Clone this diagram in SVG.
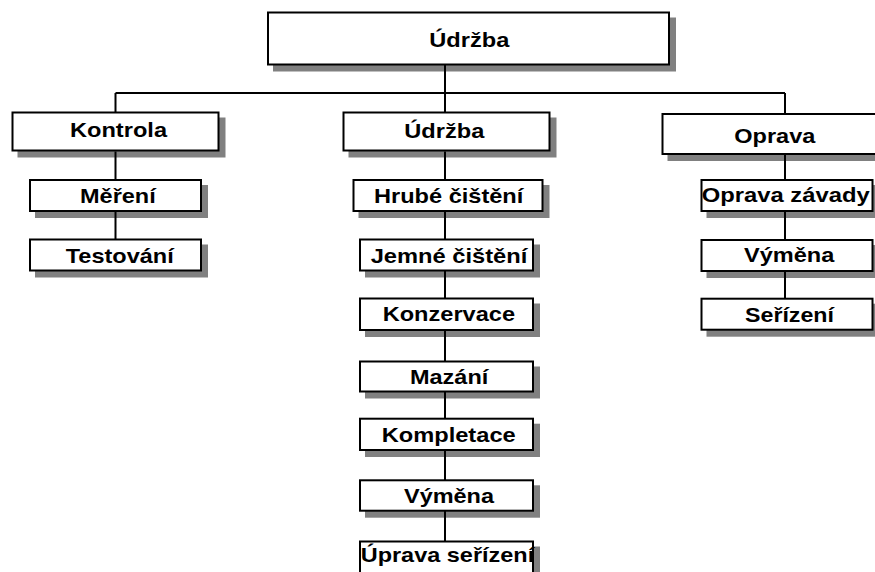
<svg xmlns="http://www.w3.org/2000/svg" width="875" height="572" viewBox="0 0 875 572">
<style>
.sh{fill:#808080;stroke:#808080;stroke-width:2}
.bx{fill:#fff;stroke:#000;stroke-width:2}
.t{font-family:"Liberation Sans",Arial,sans-serif;font-weight:bold;font-size:21px;fill:#000}
.c{stroke:#000;stroke-width:2;fill:none}
</style>
<rect width="875" height="572" fill="#fff"/>
<g id="root">
<rect class="sh" x="274" y="18.5" width="401" height="52"/>
<rect class="bx" x="268" y="12.5" width="401" height="52"/>
<text class="t" x="429.3" y="46.7" textLength="80" lengthAdjust="spacingAndGlyphs">Údržba</text>
</g>
<g id="kontrola">
<rect class="sh" x="18.5" y="118.5" width="206" height="38"/>
<rect class="bx" x="12.5" y="112.5" width="206" height="38"/>
<text class="t" x="70" y="137.3" textLength="97" lengthAdjust="spacingAndGlyphs">Kontrola</text>
</g>
<g id="udrzba">
<rect class="sh" x="349.5" y="118.5" width="206" height="38"/>
<rect class="bx" x="343.5" y="112.5" width="206" height="38"/>
<text class="t" x="404.3" y="138.3" textLength="80" lengthAdjust="spacingAndGlyphs">Údržba</text>
</g>
<g id="oprava">
<rect class="sh" x="668.5" y="120" width="226" height="40"/>
<rect class="bx" x="662.5" y="114" width="226" height="40"/>
<text class="t" x="734.3" y="143.3" textLength="81" lengthAdjust="spacingAndGlyphs">Oprava</text>
</g>
<g id="mereni">
<rect class="sh" x="36" y="186" width="171" height="31"/>
<rect class="bx" x="30" y="180" width="171" height="31"/>
<text class="t" x="80" y="202.7" textLength="75.7" lengthAdjust="spacingAndGlyphs">Měření</text>
</g>
<g id="testovani">
<rect class="sh" x="36" y="245.5" width="171" height="31"/>
<rect class="bx" x="30" y="239.5" width="171" height="31"/>
<text class="t" x="65.7" y="262.7" textLength="108" lengthAdjust="spacingAndGlyphs">Testování</text>
</g>
<g id="hrube">
<rect class="sh" x="359.5" y="186" width="189" height="31"/>
<rect class="bx" x="353.5" y="180" width="189" height="31"/>
<text class="t" x="374" y="202.7" textLength="149.3" lengthAdjust="spacingAndGlyphs">Hrubé čištění</text>
</g>
<g id="jemne">
<rect class="sh" x="366" y="245.5" width="173" height="31"/>
<rect class="bx" x="360" y="239.5" width="173" height="31"/>
<text class="t" x="370.7" y="262.7" textLength="156.6" lengthAdjust="spacingAndGlyphs">Jemné čištění</text>
</g>
<g id="konzervace">
<rect class="sh" x="366" y="304.5" width="173" height="31.5"/>
<rect class="bx" x="360" y="298.5" width="173" height="31.5"/>
<text class="t" x="382.7" y="321" textLength="132.3" lengthAdjust="spacingAndGlyphs">Konzervace</text>
</g>
<g id="mazani">
<rect class="sh" x="366" y="367.5" width="173" height="30"/>
<rect class="bx" x="360" y="361.5" width="173" height="30"/>
<text class="t" x="410" y="384" textLength="78.3" lengthAdjust="spacingAndGlyphs">Mazání</text>
</g>
<g id="kompletace">
<rect class="sh" x="366" y="424.7" width="173" height="31.3"/>
<rect class="bx" x="360" y="418.7" width="173" height="31.3"/>
<text class="t" x="381.7" y="441.7" textLength="134" lengthAdjust="spacingAndGlyphs">Kompletace</text>
</g>
<g id="vymena-c">
<rect class="sh" x="366" y="486.3" width="173" height="30.4"/>
<rect class="bx" x="360" y="480.3" width="173" height="30.4"/>
<text class="t" x="404" y="502.7" textLength="90" lengthAdjust="spacingAndGlyphs">Výměna</text>
</g>
<g id="uprava">
<rect class="sh" x="366" y="547.5" width="173" height="40"/>
<rect class="bx" x="360" y="541.5" width="173" height="40"/>
<text class="t" x="360.7" y="561.7" textLength="173.5" lengthAdjust="spacingAndGlyphs">Úprava seřízení</text>
</g>
<g id="oprava-zavady">
<rect class="sh" x="707.5" y="186" width="171" height="31"/>
<rect class="bx" x="701.5" y="180" width="171" height="31"/>
<text class="t" x="701.7" y="201.7" textLength="168" lengthAdjust="spacingAndGlyphs">Oprava závady</text>
</g>
<g id="vymena-r">
<rect class="sh" x="707.5" y="246" width="171" height="31"/>
<rect class="bx" x="701.5" y="240" width="171" height="31"/>
<text class="t" x="744" y="261.7" textLength="90.3" lengthAdjust="spacingAndGlyphs">Výměna</text>
</g>
<g id="serizeni">
<rect class="sh" x="707.5" y="304.7" width="171" height="31"/>
<rect class="bx" x="701.5" y="298.7" width="171" height="31"/>
<text class="t" x="745" y="321.7" textLength="89" lengthAdjust="spacingAndGlyphs">Seřízení</text>
</g>
<g id="connectors" class="c">
<path class="c" d="M445 64 V112 M115.5 93 H785 M115.5 93 V112 M785 93 V114"/>
<path class="c" d="M115.5 151.5 V180 M115.5 211.5 V239.5"/>
<path class="c" d="M445 151.5 V180 M445 211.5 V239.5 M445 271 V298.5 M445 330.5 V361.5 M445 392 V418.7 M445 450.5 V480.3 M445 511 V541.5"/>
<path class="c" d="M785 154.5 V180 M785 211.5 V240 M785 271.5 V298.7"/>
</g>
</svg>
